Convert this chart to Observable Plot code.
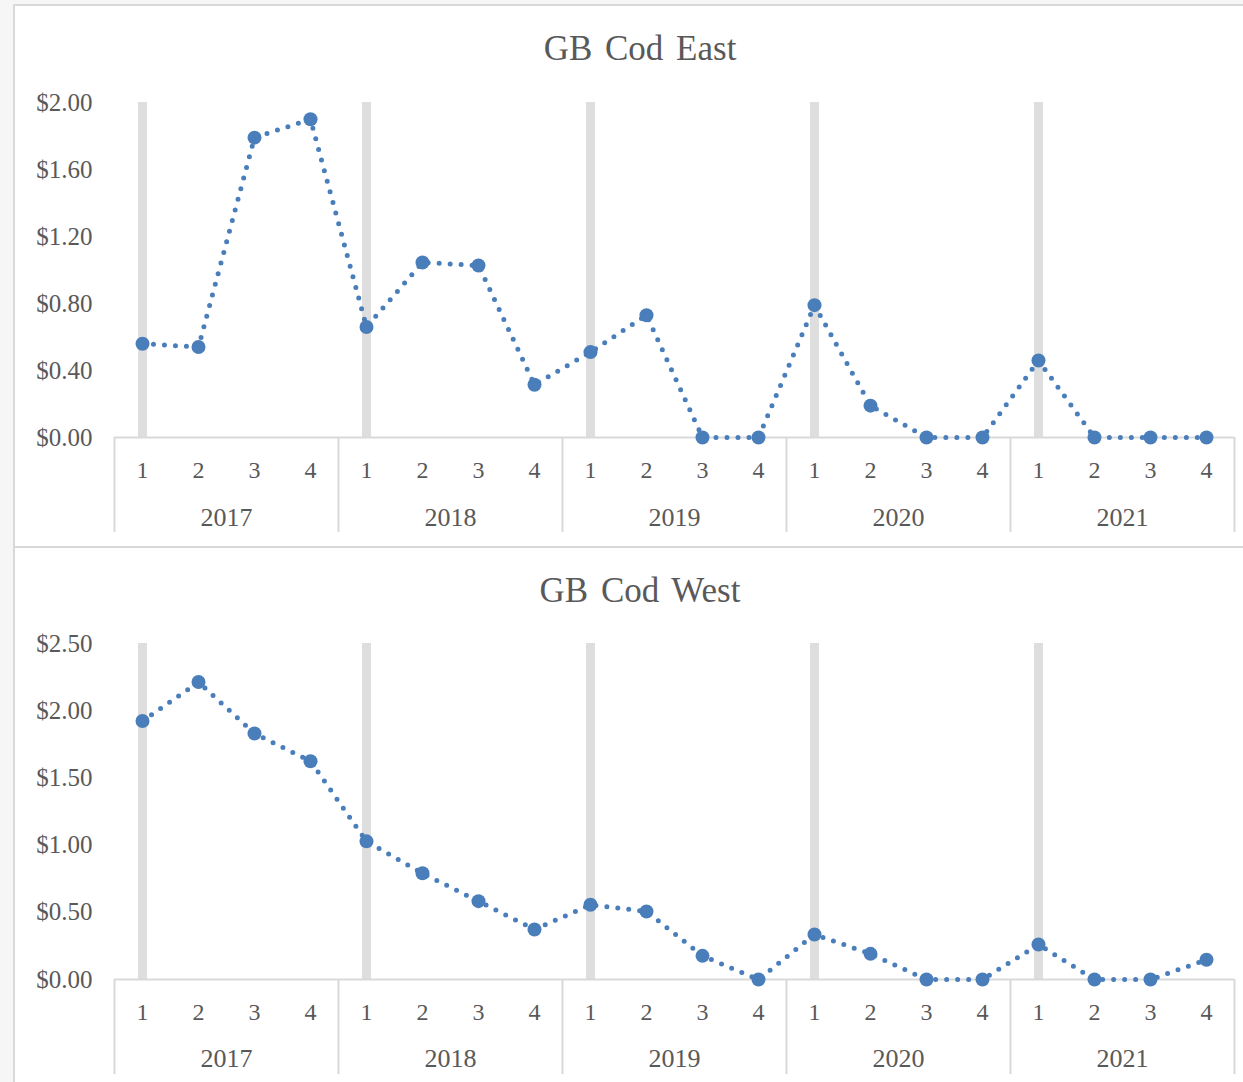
<!DOCTYPE html>
<html>
<head>
<meta charset="utf-8">
<script src="https://cdn.jsdelivr.net/npm/d3@7"></script>
<script src="https://cdn.jsdelivr.net/npm/@observablehq/plot@0.6"></script>
<style>
  html, body { margin: 0; padding: 0; }
  body { width: 1243px; height: 1082px; position: relative; background: #f6f6f6; overflow: hidden; font-family: "Liberation Serif", serif; }
  .panel { position: absolute; background: #fff; box-sizing: border-box; border-left: 2px solid #d9d9d9; }
  #p1 { left: 13px; top: 4px; width: 1230px; height: 544px; border-top: 2px solid #d9d9d9; border-bottom: 2px solid #d9d9d9; }
  #p2 { left: 13px; top: 548px; width: 1230px; height: 534px; }
  .title { position: absolute; left: 340px; width: 600px; text-align: center; font-size: 35px; color: #595959; word-spacing: 4px; line-height: 40px; }
  .chart { position: absolute; left: 0; }
  .chart svg { background: transparent !important; }
  .chart svg, .chart svg text { font-family: "Liberation Serif", serif !important; }
</style>
</head>
<body>
<div class="panel" id="p1"></div>
<div class="panel" id="p2"></div>
<div class="title" style="top:29px">GB Cod East</div>
<div class="title" style="top:571px">GB Cod West</div>
<div class="chart" id="c1" style="top:5px"></div>
<div class="chart" id="c2" style="top:548px"></div>
<script>
const years = [2017, 2018, 2019, 2020, 2021];
const quarters = [1, 2, 3, 4];
const eastPrices = [0.56, 0.54, 1.79, 1.90, 0.66, 1.045, 1.027, 0.315, 0.51, 0.73, 0, 0, 0.79, 0.19, 0, 0, 0.46, 0, 0, 0];
const westPrices = [1.923, 2.213, 1.83, 1.624, 1.028, 0.79, 0.583, 0.372, 0.556, 0.506, 0.176, 0, 0.335, 0.191, 0, 0, 0.26, 0, 0, 0.147];
const eastTicks = [0, 0.4, 0.8, 1.2, 1.6, 2.0];
const westTicks = [0, 0.5, 1.0, 1.5, 2.0, 2.5];

const GRAY = "#595959";
const LINE = "#d9d9d9";
const BLUE = "#4a7ebb";
const FONT = "Liberation Serif";

const categories = years.flatMap(y => quarters.map(q => ({year: y, quarter: q})));

function makeChart(values, ticks, opts) {
  const data = categories.map((c, i) => ({i, year: c.year, quarter: c.quarter, value: values[i]}));
  const yMax = ticks[ticks.length - 1];
  const q1 = data.filter(d => d.quarter === 1);
  const boundaries = years.map((y, k) => k * 4 - 0.5).concat([years.length * 4 - 0.5]);
  const yearLabels = years.map((y, k) => ({year: y, x: k * 4 + 1.5}));
  const plotH = opts.height - opts.marginTop - opts.marginBottom;
  return Plot.plot({
    width: 1243,
    height: opts.height,
    marginLeft: 114,
    marginRight: 9,
    marginTop: opts.marginTop,
    marginBottom: opts.marginBottom,
    style: {fontFamily: FONT, background: "transparent", overflow: "visible"},
    x: {type: "linear", domain: [-0.5, categories.length - 0.5], axis: null},
    y: {domain: [0, yMax]},
    marks: [
      Plot.ruleX(q1, {x: "i", y1: 0, y2: yMax, stroke: "#dedede", strokeWidth: 9}),
      Plot.ruleY([0], {stroke: LINE, strokeWidth: 2}),
      Plot.ruleX(boundaries, {x: d => d, stroke: LINE, strokeWidth: 2, insetTop: plotH, insetBottom: -opts.sepLen}),
      Plot.axisY({ticks, tickFormat: d3.format("$.2f"), tickSize: 0, tickPadding: 22, fontSize: 25, fontFamily: FONT, fill: GRAY, label: null}),
      Plot.text(data, {x: "i", y: () => 0, text: d => String(d.quarter), dy: opts.qDy, fontSize: 24, fontFamily: FONT, fill: GRAY}),
      Plot.text(yearLabels, {x: "x", y: () => 0, text: d => String(d.year), dy: opts.yDy, fontSize: 26, fontFamily: FONT, fill: GRAY}),
      Plot.line(data, {x: "i", y: "value", stroke: BLUE, strokeWidth: 5, strokeDasharray: "0 11", strokeLinecap: "round"}),
      Plot.dot(data, {x: "i", y: "value", r: 7, fill: BLUE})
    ]
  });
}

document.getElementById("c1").append(makeChart(eastPrices, eastTicks, {height: 541, marginTop: 97, marginBottom: 109, sepLen: 95, qDy: 33, yDy: 80}));
document.getElementById("c2").append(makeChart(westPrices, westTicks, {height: 534, marginTop: 95, marginBottom: 103, sepLen: 95, qDy: 33, yDy: 79}));
</script>
</body>
</html>
